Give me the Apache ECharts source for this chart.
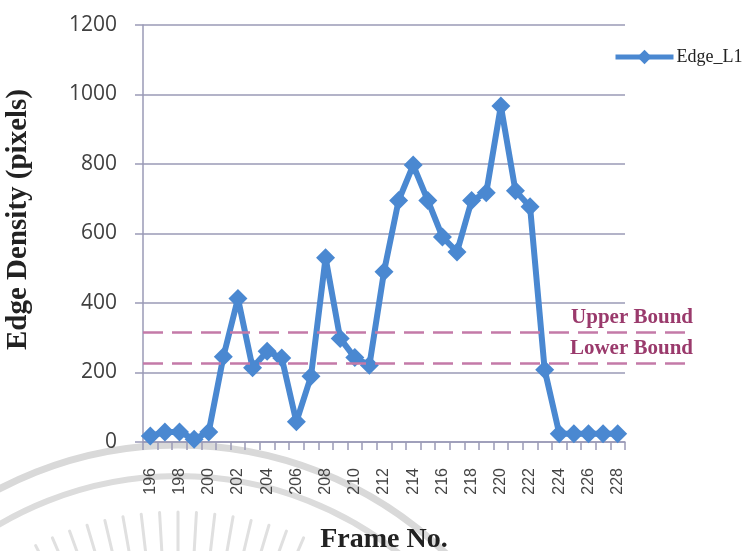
<!DOCTYPE html>
<html>
<head>
<meta charset="utf-8">
<script src="https://cdn.jsdelivr.net/npm/echarts@6/dist/echarts.min.js"></script>
<style>
  html, body { margin: 0; padding: 0; background: #ffffff; }
  #chart { width: 746px; height: 551px; }
</style>
</head>
<body>
<div id="chart"></div>
<script>
// Frame numbers on the x axis
const frames = ['196','197','198','199','200','201','202','203','204','205','206',
                '207','208','209','210','211','212','213','214','215','216','217',
                '218','219','220','221','222','223','224','225','226','227','228'];

// Edge density per frame (pixels)
const edgeL1 = [17, 29, 29, 8, 29, 245, 413, 214, 261, 242, 58,
                189, 530, 298, 243, 221, 490, 695, 797, 695, 590, 547,
                695, 717, 967, 723, 677, 208, 24, 24, 24, 24, 24];

// Threshold lines
const boundNames = ['Upper Bound', 'Lower Bound'];
const boundValues = [317, 226];

// Y axis scale
const yMin = 0, yMax = 1200, yStep = 200;

const chart = echarts.init(document.getElementById('chart'), null, { renderer: 'canvas' });

const gridColor = '#9a9ab6';
const blue = '#4a88d1';
const boundColor = '#c47aa8';
const boundText = '#9a3a6c';

// faint circular seal drawn behind everything
const sealCx = 178, sealCy = 830;
const seal = [
  { type: 'arc', z: -10, silent: true,
    shape: { cx: sealCx, cy: sealCy, r: 385, startAngle: Math.PI, endAngle: 2 * Math.PI },
    style: { stroke: '#d9d9d9', fill: null, lineWidth: 7 } },
  { type: 'arc', z: -10, silent: true,
    shape: { cx: sealCx, cy: sealCy, r: 354, startAngle: Math.PI, endAngle: 2 * Math.PI },
    style: { stroke: '#dcdcdc', fill: null, lineWidth: 6 } }
];
for (let k = -8; k <= 7; k++) {
  const a = -Math.PI / 2 + k * 0.058;
  seal.push({
    type: 'line', z: -10, silent: true,
    shape: {
      x1: sealCx + 318 * Math.cos(a), y1: sealCy + 318 * Math.sin(a),
      x2: sealCx + 270 * Math.cos(a), y2: sealCy + 270 * Math.sin(a)
    },
    style: { stroke: '#e0e0e0', lineWidth: 3, lineCap: 'round' }
  });
}

const option = {
  backgroundColor: '#ffffff',
  animation: false,
  graphic: seal,
  legend: {
    data: ['Edge_L1'],
    left: 613,
    top: 48,
    padding: 0,
    itemWidth: 58,
    itemHeight: 18,
    itemGap: 4,
    lineStyle: { width: 5 },
    textStyle: { fontFamily: 'Liberation Serif', fontSize: 18, color: '#222222', padding: [0, 0, 0, -2] }
  },
  grid: [
    { left: 143, right: 121, top: 25, bottom: 109, containLabel: false, outerBoundsMode: 'none' },
    { left: 143, right: 53, top: 25, bottom: 109, containLabel: false, outerBoundsMode: 'none' }
  ],
  xAxis: [
    {
      type: 'category',
      gridIndex: 0,
      data: frames,
      boundaryGap: true,
      name: 'Frame No.',
      nameLocation: 'middle',
      nameGap: 84,
      nameTextStyle: { fontFamily: 'Liberation Serif', fontWeight: 'bold', fontSize: 28, color: '#222222' },
      axisLine: { lineStyle: { color: gridColor, width: 1.5 } },
      axisTick: { show: true, interval: 0, length: 8, inside: false, lineStyle: { color: gridColor, width: 1.5 } },
      axisLabel: {
        interval: 1,
        rotate: 90,
        margin: 26,
        fontFamily: 'Liberation Sans',
        fontSize: 16,
        color: '#444444'
      },
      splitLine: { show: false }
    },
    {
      type: 'value',
      gridIndex: 1,
      min: 0,
      max: 1,
      show: false
    }
  ],
  yAxis: [
    {
      type: 'value',
      gridIndex: 0,
      min: yMin,
      max: yMax,
      interval: yStep,
      name: 'Edge Density (pixels)',
      nameLocation: 'middle',
      nameGap: 110,
      nameTextStyle: {
        fontFamily: 'Liberation Serif', fontWeight: 'bold', fontSize: 29, color: '#222222',
        padding: [0, 0, 0, 28]
      },
      axisLine: { show: true, lineStyle: { color: gridColor, width: 1.5 } },
      axisTick: { show: true, length: 8, lineStyle: { color: gridColor, width: 1.5 } },
      axisLabel: {
        margin: 26,
        fontFamily: 'Open Sans',
        fontSize: 21,
        color: '#404040',
        formatter: v => String(v)
      },
      splitLine: { show: true, lineStyle: { color: gridColor, width: 1.5 } }
    },
    {
      type: 'value',
      gridIndex: 1,
      min: yMin,
      max: yMax,
      show: false
    }
  ],
  series: [
    {
      name: 'Bounds',
      type: 'line',
      xAxisIndex: 1,
      yAxisIndex: 1,
      data: [],
      z: 1,
      markLine: {
        silent: true,
        symbol: ['none', 'none'],
        lineStyle: { color: boundColor, type: [20, 9], width: 2.7 },
        label: {
          show: true,
          position: 'insideEndTop',
          distance: [0, 4],
          formatter: p => p.name,
          fontFamily: 'Liberation Serif',
          fontWeight: 'bold',
          fontSize: 21,
          color: boundText
        },
        data: boundNames.map((n, i) => ({ name: n, yAxis: boundValues[i] }))
      }
    },
    {
      name: 'Edge_L1',
      type: 'line',
      xAxisIndex: 0,
      yAxisIndex: 0,
      data: edgeL1,
      z: 3,
      symbol: 'diamond',
      symbolSize: 19,
      showAllSymbol: true,
      lineStyle: { color: blue, width: 6 },
      itemStyle: { color: blue, borderWidth: 0 }
    }
  ]
};

chart.setOption(option);
</script>
</body>
</html>
